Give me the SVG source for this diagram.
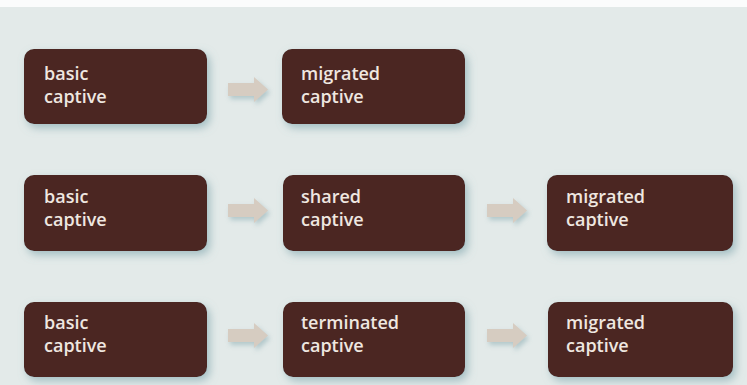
<svg xmlns="http://www.w3.org/2000/svg" width="747" height="385" viewBox="0 0 747 385">
  <defs>
    <filter id="shadow" x="-10%" y="-20%" width="125%" height="150%">
      <feGaussianBlur in="SourceAlpha" stdDeviation="4"/>
      <feOffset dx="3" dy="4" result="b"/>
      <feFlood flood-color="#6f9aa3" flood-opacity="0.55"/>
      <feComposite in2="b" operator="in"/>
      <feMerge><feMergeNode/><feMergeNode in="SourceGraphic"/></feMerge>
    </filter>
    <filter id="ashadow" x="-20%" y="-40%" width="150%" height="200%">
      <feGaussianBlur in="SourceAlpha" stdDeviation="2.5"/>
      <feOffset dx="2" dy="3" result="b"/>
      <feFlood flood-color="#7fa4ab" flood-opacity="0.5"/>
      <feComposite in2="b" operator="in"/>
      <feMerge><feMergeNode/><feMergeNode in="SourceGraphic"/></feMerge>
    </filter>
    <path id="arrow" d="M0,6 H26 V0 L40,12.5 L26,25 V19 H0 Z"/>
  </defs>
  <style>
    .box { fill: #4b2621; filter: url(#shadow); }
    .lbl { fill: #efe7e0; font-family: "Open Sans", "Liberation Sans", sans-serif; font-weight: 600; font-size: 18px; }
    .arr { fill: #d6ccc1; filter: url(#ashadow); }
  </style>
  <rect width="747" height="385" fill="#e3eae9"/>
  <rect width="747" height="7" fill="#fbfcfc"/>

  <g id="connectors">
    <use href="#arrow" class="arr" x="228" y="77"/>
    <use href="#arrow" class="arr" x="228" y="198"/>
    <use href="#arrow" class="arr" x="487" y="198"/>
    <use href="#arrow" class="arr" x="228" y="323"/>
    <use href="#arrow" class="arr" x="487" y="323"/>
  </g>

  <g id="basic1">
    <rect class="box" x="24" y="49" width="183" height="75" rx="10"/>
    <text class="lbl" x="44" y="80">basic</text>
    <text class="lbl" x="44" y="103">captive</text>
  </g>
  <g id="migrated1">
    <rect class="box" x="282" y="49" width="183" height="75" rx="10"/>
    <text class="lbl" x="301" y="80">migrated</text>
    <text class="lbl" x="301" y="103">captive</text>
  </g>

  <g id="basic2">
    <rect class="box" x="24" y="175" width="183" height="76" rx="10"/>
    <text class="lbl" x="44" y="203">basic</text>
    <text class="lbl" x="44" y="226">captive</text>
  </g>
  <g id="shared2">
    <rect class="box" x="283" y="175" width="182" height="76" rx="10"/>
    <text class="lbl" x="301" y="203">shared</text>
    <text class="lbl" x="301" y="226">captive</text>
  </g>
  <g id="migrated2">
    <rect class="box" x="547" y="175" width="186" height="76" rx="10"/>
    <text class="lbl" x="566" y="203">migrated</text>
    <text class="lbl" x="566" y="226">captive</text>
  </g>

  <g id="basic3">
    <rect class="box" x="24" y="302" width="183" height="75" rx="10"/>
    <text class="lbl" x="44" y="329">basic</text>
    <text class="lbl" x="44" y="352">captive</text>
  </g>
  <g id="terminated3">
    <rect class="box" x="283" y="302" width="182" height="75" rx="10"/>
    <text class="lbl" x="301" y="329">terminated</text>
    <text class="lbl" x="301" y="352">captive</text>
  </g>
  <g id="migrated3">
    <rect class="box" x="548" y="302" width="185" height="75" rx="10"/>
    <text class="lbl" x="566" y="329">migrated</text>
    <text class="lbl" x="566" y="352">captive</text>
  </g>
</svg>
